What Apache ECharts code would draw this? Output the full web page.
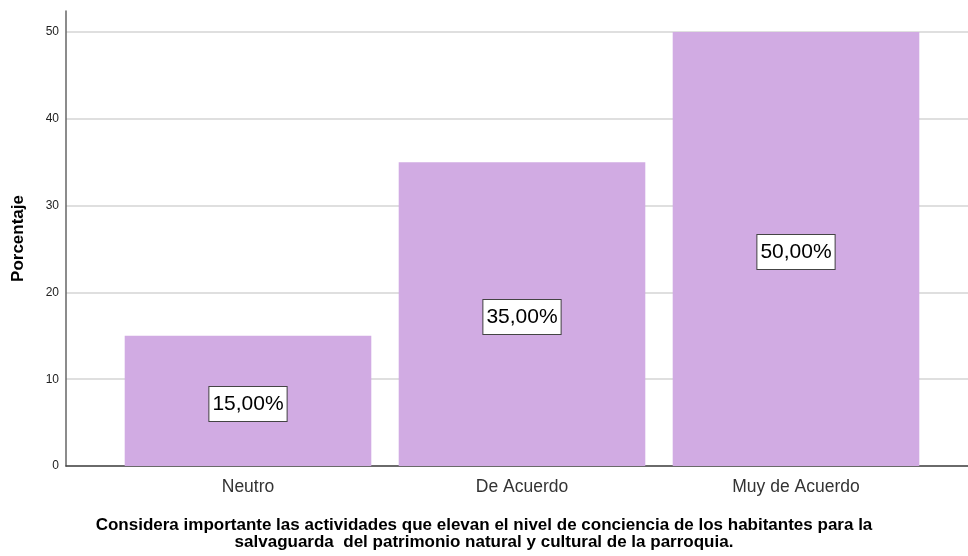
<!DOCTYPE html>
<html>
<head>
<meta charset="utf-8">
<script src="https://cdn.jsdelivr.net/npm/echarts@6/dist/echarts.min.js"></script>
<style>
  html, body { margin: 0; padding: 0; background: #fff; }
  #chart { width: 968px; height: 556px; }
</style>
</head>
<body>
<div id="chart"></div>
<script>
// Response categories and the share of respondents (%) in each
const categories = ['Neutro', 'De Acuerdo', 'Muy de Acuerdo'];
const percentages = [15, 35, 50];
const yTicks = [0, 10, 20, 30, 40, 50];

const chartTitle = 'Considera importante las actividades que elevan el nivel de conciencia de los habitantes para la\nsalvaguarda  del patrimonio natural y cultural de la parroquia.';
const yName = 'Porcentaje';

const fontFamily = 'Arial, "Liberation Sans", sans-serif';
const barColor = '#D1ABE3';

const chart = echarts.init(document.getElementById('chart'), null, { renderer: 'canvas' });

chart.setOption({
  animation: false,
  backgroundColor: '#ffffff',
  graphic: [
    {
      type: 'text',
      x: 484,
      y: 517,
      style: {
        text: chartTitle,
        fontFamily: fontFamily,
        fontSize: 17,
        fontWeight: 'bold',
        fill: '#000',
        lineHeight: 17,
        align: 'center',
        verticalAlign: 'top'
      }
    }
  ],
  grid: [
    // frame: axis lines (y axis reaches above the top tick)
    { left: 66, right: 0, top: 11, bottom: 90 },
    // gridlines and tick labels
    { left: 66, right: 0, top: 32, bottom: 90 },
    // bars
    { left: 111, right: 35, top: 32, bottom: 90 }
  ],
  xAxis: [
    {
      gridIndex: 0, type: 'value', min: 0, max: 1,
      axisLine: { show: true, onZero: false, lineStyle: { color: '#444', width: 1.5 } },
      axisTick: { show: false }, axisLabel: { show: false }, splitLine: { show: false }
    },
    {
      gridIndex: 1, type: 'value', min: 0, max: 1, show: false
    },
    {
      gridIndex: 2, type: 'category', data: categories,
      axisLine: { show: false }, axisTick: { show: false },
      axisLabel: { fontFamily: fontFamily, fontSize: 17.5, color: '#333', margin: 12 },
      splitLine: { show: false }
    }
  ],
  yAxis: [
    {
      gridIndex: 0, type: 'value', min: 0, max: 52.42,
      name: yName, nameLocation: 'middle', nameGap: 39,
      nameTextStyle: { fontFamily: fontFamily, fontSize: 17, fontWeight: 'bold', color: '#000' },
      axisLine: { show: true, lineStyle: { color: '#666', width: 1.5 } },
      axisTick: { show: false }, axisLabel: { show: false }, splitLine: { show: false }
    },
    {
      gridIndex: 1, type: 'value', min: yTicks[0], max: yTicks[yTicks.length - 1], interval: 10,
      axisLine: { show: false }, axisTick: { show: false },
      axisLabel: { fontFamily: fontFamily, fontSize: 12, color: '#222', margin: 7 },
      splitLine: { show: true, lineStyle: { color: '#d4d4d4', width: 1.5 } }
    },
    {
      gridIndex: 2, type: 'value', min: 0, max: 50, show: false
    }
  ],
  series: [
    {
      type: 'bar',
      xAxisIndex: 2,
      yAxisIndex: 2,
      data: percentages,
      barCategoryGap: '10%',
      itemStyle: { color: barColor },
      label: {
        show: true,
        position: 'inside',
        offset: [0, 3],
        formatter: p => p.value.toFixed(2).replace('.', ',') + '%',
        fontFamily: fontFamily,
        fontSize: 21,
        color: '#000',
        backgroundColor: '#ffffff',
        borderColor: '#444',
        borderWidth: 1,
        padding: [8, 3, 5, 3]
      }
    }
  ]
});
</script>
</body>
</html>
